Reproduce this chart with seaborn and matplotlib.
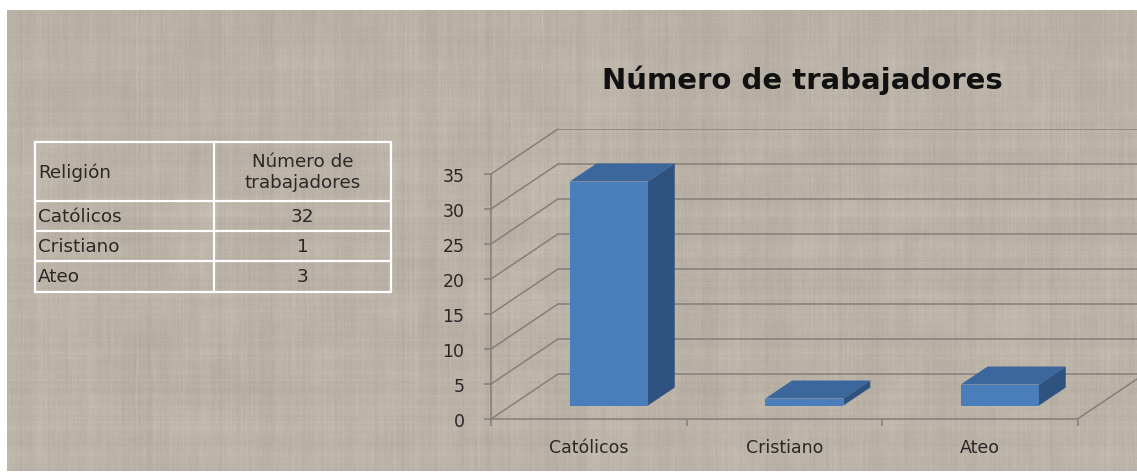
import numpy as np
import matplotlib
matplotlib.use("Agg")
import matplotlib.pyplot as plt
from matplotlib.patches import Polygon
import seaborn as sns

# Data
categorias = ["Católicos", "Cristiano", "Ateo"]
trabajadores = [32, 1, 3]
y_ticks = [0, 5, 10, 15, 20, 25, 30, 35]
titulo = "Número de trabajadores"
encabezados = ["Religión", "Número de\ntrabajadores"]

sns.set_theme(style="white")
plt.rcParams["font.family"] = ["DejaVu Sans"]

W, H = 1137, 477
fig = plt.figure(figsize=(W / 100, H / 100), dpi=100, facecolor="white")

# ---- linen-like background panel ----
def smooth(v, k):
    return np.convolve(v, np.ones(k) / k, mode="same")

def smooth2d(a, ky, kx):
    a = np.apply_along_axis(smooth, 0, a, ky)
    return np.apply_along_axis(smooth, 1, a, kx)

rng = np.random.default_rng(7)
th, tw = 461, 1130
rows = smooth(rng.normal(0, 1, th), 2) * 0.7 + smooth(rng.normal(0, 1, th), 9) * 1.2
cols = smooth(rng.normal(0, 1, tw), 2) * 0.9 + smooth(rng.normal(0, 1, tw), 15) * 1.8
blot = smooth2d(rng.normal(0, 1, (th, tw)), 41, 41) * 12
streak = smooth2d(rng.normal(0, 1, (th, tw)), 25, 2) * 2.5
fine = rng.normal(0, 1, (th, tw)) * 0.5
shade = (rows[:, None] * 0.010 + cols[None, :] * 0.010 + blot * 0.02
         + streak * 0.012 + fine * 0.010)
base = np.array([188, 179, 168]) / 255.0
tex = np.clip(base[None, None, :] + shade[:, :, None] * np.array([1.0, 1.0, 0.95]), 0, 1)

bg = fig.add_axes([7 / W, 5 / H, (W - 7) / W, th / H], zorder=-2)
bg.imshow(tex, aspect="auto", interpolation="bilinear")
bg.set_axis_off()

# ---- chart axes ----
# front plane: x=-0.5 at px 491, 195.5 px per category; y=0 at px 420, 7 px per unit
px_cat, px_val = 195.5, 7.0
x_left_px, y0_px, y_top_px = 491, 420, 130
x_lo = -0.5
x_hi = x_lo + (W - x_left_px) / px_cat
y_hi = (y0_px - y_top_px) / px_val
ax = fig.add_axes([x_left_px / W, (H - y0_px) / H, (W - x_left_px) / W, (y0_px - y_top_px) / H])
ax.patch.set_alpha(0)

sns.barplot(x=categorias, y=trabajadores, ax=ax, width=0.4, color="#4A7EBB",
            saturation=1, zorder=3, linewidth=0)

# depth of the 3D box (in data units)
depth_x, depth_y = 67 / px_cat, 45 / px_val
grid_c = "#857f79"

for v in y_ticks:
    ax.plot([x_lo, x_lo + depth_x], [v, v + depth_y], color=grid_c, lw=1.1, zorder=1, clip_on=False)
    ax.plot([x_lo + depth_x, x_hi], [v + depth_y, v + depth_y], color=grid_c, lw=1.1, zorder=1)
# floor right edge
ax.plot([2.5, 2.5 + depth_x], [0, depth_y], color=grid_c, lw=1.1, zorder=1)

# extrude bars: front face set back 30% of the depth, bar depth 40%
fx, fy = 0.3 * depth_x, 0.3 * depth_y
bx, by = 0.4 * depth_x, 0.4 * depth_y
top_c, side_c = "#3B679D", "#2E5380"
for p in list(ax.patches):
    x0 = p.get_x() + fx
    p.set_x(x0)
    p.set_y(fy)
    x1 = x0 + p.get_width()
    b, t = fy, fy + p.get_height()
    ax.add_patch(Polygon([(x0, t), (x1, t), (x1 + bx, t + by), (x0 + bx, t + by)],
                         closed=True, facecolor=top_c, edgecolor="none", zorder=3))
    ax.add_patch(Polygon([(x1, b), (x1, t), (x1 + bx, t + by), (x1 + bx, b + by)],
                         closed=True, facecolor=side_c, edgecolor="none", zorder=3))

ax.set_xlim(x_lo, x_hi)
ax.set_ylim(0, y_hi)
ax.set_yticks(y_ticks)
ax.set_xticks(range(len(categorias)))
ax.set_xticks([-0.5, 0.5, 1.5, 2.5], minor=True)
ax.set_xlabel("")
ax.set_ylabel("")
for s in ["top", "right"]:
    ax.spines[s].set_visible(False)
ax.spines["left"].set_bounds(0, 35)
ax.spines["bottom"].set_bounds(-0.5, 2.5)
for s in ["left", "bottom"]:
    ax.spines[s].set_color(grid_c)
    ax.spines[s].set_linewidth(1.1)
txt_c = "#2a2826"
ax.tick_params(axis="y", which="major", left=True, length=5, width=1.1, color=grid_c,
               pad=14, labelsize=12.5, labelcolor=txt_c)
ax.tick_params(axis="x", which="major", bottom=False, length=0, pad=14,
               labelsize=12.5, labelcolor=txt_c)
ax.tick_params(axis="x", which="minor", bottom=True, length=5, width=1.1, color=grid_c)
ax.grid(False)

fig.text(802 / W, 1 - 80 / H, titulo, ha="center", va="center",
         fontsize=21, fontweight="bold", color="#111111")

# ---- table ----
tb = fig.add_axes([0, 0, 1, 1], zorder=1)
tb.set_xlim(0, W)
tb.set_ylim(H, 0)
tb.set_axis_off()
tb.patch.set_alpha(0)
xs = [35, 214, 391]
ys = [143, 202, 232, 262, 293]
for y in ys:
    tb.plot([xs[0], xs[-1]], [y, y], color="white", lw=1.6)
for x in xs:
    tb.plot([x, x], [ys[0], ys[-1]], color="white", lw=1.6)
fs = 13.2
tb.text(xs[0] + 3, (ys[0] + ys[1]) / 2, encabezados[0], ha="left", va="center",
        fontsize=fs, color=txt_c)
tb.text((xs[1] + xs[2]) / 2, (ys[0] + ys[1]) / 2, encabezados[1], ha="center",
        va="center", fontsize=fs, color=txt_c, linespacing=1.25)
for i, (c, v) in enumerate(zip(categorias, trabajadores)):
    yc = (ys[i + 1] + ys[i + 2]) / 2
    tb.text(xs[0] + 3, yc, c, ha="left", va="center", fontsize=fs, color=txt_c)
    tb.text((xs[1] + xs[2]) / 2, yc, str(v), ha="center", va="center", fontsize=fs, color=txt_c)

fig.savefig("out.png", dpi=100, facecolor="white")
